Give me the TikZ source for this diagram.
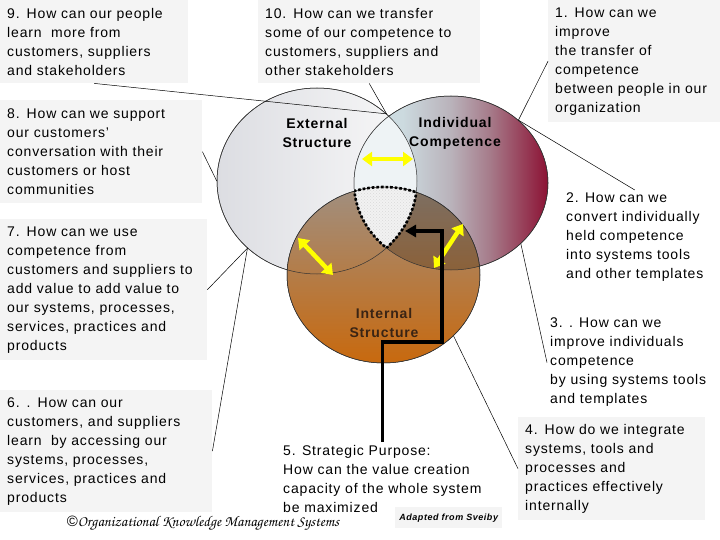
\documentclass[tikz,border=0pt]{standalone}
\usepackage[T1]{fontenc}
\usepackage{fontspec}
\setmainfont{Liberation Sans}[LetterSpace=6]
\usepackage{xcolor}
\usepackage{tikz}
\usetikzlibrary{positioning, arrows.meta, shapes.geometric, patterns}

\definecolor{boxgray}{HTML}{F4F4F4}
\definecolor{extleft}{HTML}{DCDDE2}
\definecolor{extright}{HTML}{F9F9F9}
\definecolor{indleft}{HTML}{D3E2E7}
\definecolor{indpale}{HTML}{CCDADF}
\definecolor{indmid}{HTML}{B9B2BA}
\definecolor{indmauve}{HTML}{A67B8A}
\definecolor{indright}{HTML}{8C1234}
\definecolor{inttop}{HTML}{A08F80}
\definecolor{intmid}{HTML}{B07C4C}
\definecolor{intbot}{HTML}{C8690E}
\definecolor{lensfill}{HTML}{EEF3F5}
\definecolor{flowyellow}{HTML}{FFFF00}
\definecolor{inttext}{HTML}{3A2414}

% shading of the individual competence sphere
\pgfdeclarehorizontalshading{indshade}{100bp}{color(0bp)=(indleft); color(25bp)=(indleft);
    color(37.5bp)=(indpale); color(50bp)=(indmid); color(60bp)=(indmauve);
    color(75bp)=(indright); color(100bp)=(indright)}

% ellipse outlines of the three spheres (for clipping)
\newcommand{\extpath}{(317,181) ellipse [x radius=100, y radius=93]}
\newcommand{\indpath}{(451,183) ellipse [x radius=97, y radius=87]}
\newcommand{\intpath}{(383.5,275) ellipse [x radius=96.5, y radius=88]}
\newcommand{\okmsfont}{\usefont{T1}{pzc}{m}{it}}

\begin{document}
\begin{tikzpicture}[x=1pt, y=-1pt,
        % question boxes with grey background
        question/.style={
            rectangle, fill=boxgray, anchor=north west,
            inner xsep=7pt, inner ysep=0pt, align=left,
            font=\fontsize{14}{19}\selectfont
        },
        % questions without a box
        freetext/.style={
            anchor=north west, inner sep=3pt, align=left,
            font=\fontsize{14}{19}\selectfont
        },
        % the three spheres
        sphere/.style={ellipse, draw=black!80, line width=0.5pt, inner sep=0pt},
        sphlabel/.style={align=center, font=\fontsize{14}{19}\selectfont\bfseries},
        % thin lines from the questions
        link/.style={draw=black, line width=0.5pt},
        % yellow two way arrows
        flow/.style={
            draw=flowyellow, line width=4.5pt,
            arrows={Triangle[length=10pt,width=14pt]-Triangle[length=10pt,width=14pt]}
        },
        % strategic purpose path
        route/.style={draw=black, line width=3.5pt, -{Triangle[length=11pt,width=12pt]}},
        coreline/.style={draw=black, line width=2.6pt, dash pattern=on 2.6pt off 2pt}
    ]
        \useasboundingbox (0,0) rectangle (720,540);

        % Spheres
        \node[sphere, minimum width=200pt, minimum height=186pt,
              left color=extleft, right color=extright] (ext) at (317,181) {};
        \node[sphere, minimum width=194pt, minimum height=174pt, shading=indshade] (ind) at (451,183) {};
        \begin{scope}
            \clip \extpath;
            \fill[lensfill] \indpath;
        \end{scope}
        \node[sphere, minimum width=193pt, minimum height=176pt,
              top color=inttop, middle color=intmid, bottom color=intbot] (int) at (383.5,275) {};
        \begin{scope}
            \clip \indpath;
            \fill[black, opacity=0.22] \intpath;
        \end{scope}

        % Core where all three meet
        \begin{scope}
            \clip \extpath;
            \clip \indpath;
            \fill[gray!10] \intpath;
            \fill[pattern=crosshatch dots, pattern color=gray!30] \intpath;
        \end{scope}
        \draw[black!80, line width=0.5pt] \extpath \indpath \intpath;
        \begin{scope}
            \clip \indpath; \clip \intpath;
            \draw[coreline] \extpath;
        \end{scope}
        \begin{scope}
            \clip \extpath; \clip \intpath;
            \draw[coreline] \indpath;
        \end{scope}
        \begin{scope}
            \clip \extpath; \clip \indpath;
            \draw[coreline] \intpath;
        \end{scope}

        % Sphere names
        \node[sphlabel] (extlbl) at (317,133) {External\\Structure};
        \node[sphlabel] (indlbl) at (455,133) {Individual\\Competence};
        \node[sphlabel, text=inttext] (intlbl) at (384,323) {Internal\\Structure};

        % Yellow arrows
        \coordinate (lensL) at (362,159);
        \coordinate (lensR) at (413,159);
        \coordinate (extA) at (298,238);
        \coordinate (extB) at (333,275);
        \coordinate (indA) at (434,268);
        \coordinate (indB) at (463,224);
        \draw[flow] (lensL) -- (lensR);
        \draw[flow] (extA) -- (extB);
        \draw[flow] (indA) -- (indB);

        % Questions
        \node[question, minimum width=188pt, minimum height=83pt, text width=174pt] (b9) at (0,0)
            {9. How can our people\\learn\ \ more from\\customers, suppliers\\and stakeholders};
        \node[question, minimum width=202pt, minimum height=103pt, text width=188pt] (b8) at (0,100)
            {8. How can we support\\our customers'\\conversation with their\\customers or host\\communities};
        \node[question, minimum width=207pt, minimum height=141pt, text width=193pt] (b7) at (0,219)
            {7. How can we use\\competence from\\customers and suppliers to\\add value to add value to\\our systems, processes,\\services, practices and\\products};
        \node[question, minimum width=212pt, minimum height=122pt, text width=198pt] (b6) at (0,390)
            {6. . How can our\\customers, and suppliers\\learn\ \ by accessing our\\systems, processes,\\services, practices and\\products};
        \node[question, minimum width=222pt, minimum height=83pt, text width=208pt] (b10) at (258,0)
            {10. How can we transfer\\some of our competence to\\customers, suppliers and\\other stakeholders};
        \node[question, minimum width=172pt, minimum height=122pt, text width=158pt] (b1) at (548,0)
            {1. How can we\\improve\\the transfer of\\competence\\between people in our\\organization};
        \node[question, minimum width=187pt, minimum height=103pt, text width=173pt] (b4) at (518,417)
            {4. How do we integrate\\systems, tools and\\processes and\\practices effectively\\internally};
        \node[freetext] (t2) at (563,190)
            {2. How can we\\convert individually\\held competence\\into systems tools\\and other templates};
        \node[freetext] (t3) at (547,315)
            {3. . How can we\\improve individuals\\competence\\by using systems tools\\and templates};
        \node[freetext] (t5) at (280,442)
            {5. Strategic Purpose:\\How can the value creation\\capacity of the whole system\\be maximized};

        % Connectors
        \draw[link] (b9.south) -- (ext.44);
        \draw[link] (b10.south) -- (ext.44);
        \draw[link] (b1.west) -- (ind.43);
        \draw[link] (t2.north) -- (ind.43);
        \draw[link] (b8.east) -- (ext.west);
        \draw[link] (b7.east) -- (ext.224);
        \draw[link] (b6.east) -- (ext.224);
        \draw[link] (t3.west) -- (ind.319);
        \draw[link] (b4.west) -- (int.319);

        % Strategic purpose runs into the core
        \coordinate (core) at (405,231);
        \draw[route] (t5.north) |- (442,342) |- (core);

        % Credits
        \node[fill=boxgray, anchor=north west, minimum width=107pt, minimum height=21pt,
              inner sep=0pt, font=\fontsize{9}{11}\selectfont\bfseries\itshape] (sv) at (395,507)
            {Adapted from Sveiby};
        \node[inner sep=0pt, font=\fontsize{15}{18}\selectfont] (okms) at (203,523)
            {©{\okmsfont Organizational Knowledge Management Systems}};
    \end{tikzpicture}
\end{document}
